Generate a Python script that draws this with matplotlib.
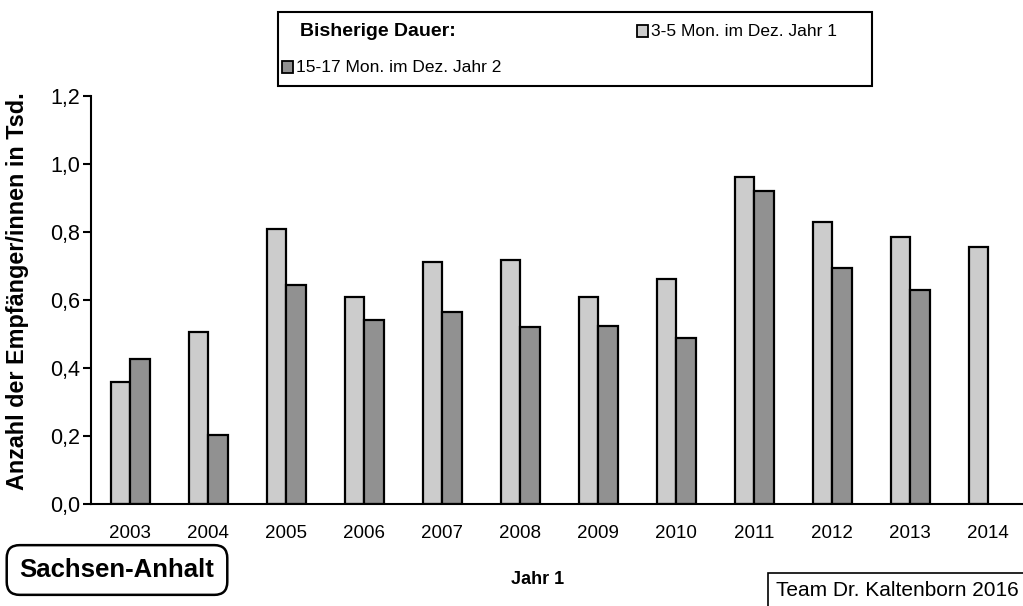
import matplotlib.pyplot as plt
from matplotlib.patches import Rectangle
import numpy as np

plt.rcParams['font.family'] = ['Liberation Sans', 'DejaVu Sans']

years = ['2003', '2004', '2005', '2006', '2007', '2008', '2009', '2010',
         '2011', '2012', '2013', '2014']
dauer_3_5 = [0.36, 0.506, 0.809, 0.608, 0.713, 0.718, 0.608, 0.662,
             0.963, 0.829, 0.786, 0.756]
dauer_15_17 = [0.426, 0.203, 0.644, 0.541, 0.564, 0.520, 0.524, 0.488,
               0.922, 0.695, 0.628, np.nan]
yticks = [0.0, 0.2, 0.4, 0.6, 0.8, 1.0, 1.2]
light, dark = '#cccccc', '#919191'

W, H = 1023, 606
fig = plt.figure(figsize=(W / 100, H / 100), dpi=100)
ax = fig.add_axes([91 / W, 1 - 504 / H, (1027 - 91) / W, (504 - 96) / H])

x = np.arange(len(years))
w = 0.25
ax.bar(x - w / 2, dauer_3_5, w, color=light, edgecolor='black', linewidth=1.6)
ax.bar(x + w / 2, dauer_15_17, w, color=dark, edgecolor='black', linewidth=1.6)

ax.set_xlim(-0.5, len(years) - 0.5)
ax.set_ylim(0, 1.2)
ax.set_xticks(x)
ax.set_xticklabels(years, fontsize=13.5)
ax.set_yticks(yticks)
ax.set_yticklabels([f'{v:.1f}'.replace('.', ',') for v in yticks], fontsize=15.5)
ax.tick_params(axis='x', length=0, pad=15)
ax.tick_params(axis='y', length=6, width=1.5, pad=2)
for s in ['top', 'right']:
    ax.spines[s].set_visible(False)
for s in ['left', 'bottom']:
    ax.spines[s].set_linewidth(1.5)

ax.set_ylabel('Anzahl der Empfänger/innen in Tsd.', fontsize=16.8,
              fontweight='bold')
ax.yaxis.set_label_coords(-(91 - 29) / (1027 - 91), (504 - 291) / (504 - 96))
fig.text(538 / W, 1 - 579 / H, 'Jahr 1', fontsize=13, fontweight='bold',
         ha='center', va='center')


def px(x0, y0):
    # pixel position (from top-left) -> figure fraction
    return x0 / W, 1 - y0 / H


# legend box drawn by hand
fig.add_artist(Rectangle(px(278, 86), (872 - 278) / W, (86 - 12) / H,
                         transform=fig.transFigure, fill=False,
                         edgecolor='black', linewidth=1.5))
fig.text(*px(300, 31), 'Bisherige Dauer:', fontsize=14, fontweight='bold',
         va='center')
legend_items = [(637, 31, light, '3-5 Mon. im Dez. Jahr 1'),
                (282, 67, dark, '15-17 Mon. im Dez. Jahr 2')]
for lx, ly, col, txt in legend_items:
    fig.add_artist(Rectangle(px(lx, ly + 5.5), 11 / W, 11 / H,
                             transform=fig.transFigure, facecolor=col,
                             edgecolor='black', linewidth=1.3))
    fig.text(*px(lx + 14, ly), txt, fontsize=12.5, va='center')

fig.text(*px(117, 570), 'Sachsen-Anhalt', fontsize=18.5, fontweight='bold',
         ha='center', va='center',
         bbox=dict(boxstyle='round,pad=0.5,rounding_size=0.5', fc='white',
                   ec='black', lw=1.8))
fig.text(*px(776, 591), 'Team Dr. Kaltenborn 2016', fontsize=15,
         ha='left', va='center',
         bbox=dict(boxstyle='square,pad=0.4', fc='white', ec='black', lw=1.2))

fig.savefig('out.png', dpi=100)
